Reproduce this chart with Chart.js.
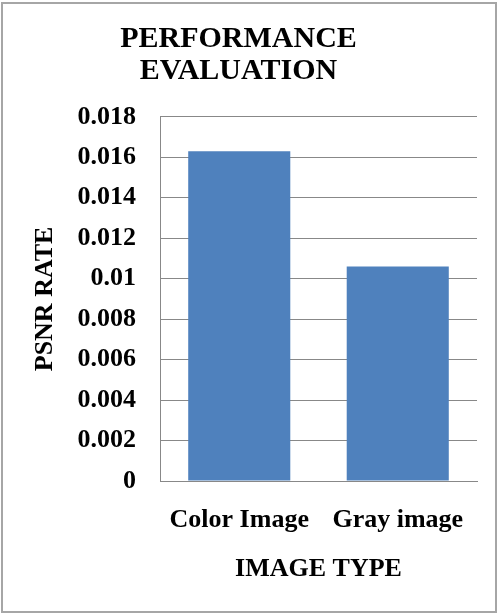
<!DOCTYPE html>
<html>
<head>
<meta charset="utf-8">
<script src="https://cdn.jsdelivr.net/npm/chart.js@4.4.1/dist/chart.umd.min.js"></script>
<style>
  html, body { margin: 0; padding: 0; background: #fff; }
  #wrap { position: relative; width: 498px; height: 614px; }
  canvas { display: block; }
</style>
</head>
<body>
<div id="wrap"><canvas id="chart" width="498" height="614"></canvas></div>
<script>
// Data
const categories = ['Color Image', 'Gray image'];
const psnrRate = [0.0163, 0.0106];
const yTicks = [0, 0.002, 0.004, 0.006, 0.008, 0.01, 0.012, 0.014, 0.016, 0.018];
const titleLines = ['PERFORMANCE', 'EVALUATION'];
const yTitle = 'PSNR RATE';
const xTitle = 'IMAGE TYPE';

const serif = "'Liberation Serif', 'Times New Roman', serif";

// Grey outline around the whole chart
const frame = {
  id: 'frame',
  afterDraw(chart) {
    const ctx = chart.ctx;
    ctx.save();
    ctx.strokeStyle = '#a6a6a6';
    ctx.lineWidth = 2;
    ctx.strokeRect(2, 3, 494, 609);
    ctx.restore();
  }
};

new Chart(document.getElementById('chart'), {
  type: 'bar',
  data: {
    labels: categories,
    datasets: [{
      data: psnrRate,
      backgroundColor: '#4F81BD',
      borderWidth: 0,
      barPercentage: 0.644,
      categoryPercentage: 1
    }]
  },
  plugins: [frame],
  options: {
    responsive: false,
    animation: false,
    layout: { padding: { left: 0, right: 21, top: 23, bottom: 29 } },
    plugins: {
      legend: { display: false },
      tooltip: { enabled: false },
      title: {
        display: true,
        text: titleLines,
        color: '#000',
        font: { family: serif, size: 30, weight: 'bold', lineHeight: 1.08 },
        padding: { top: 0, bottom: 29 }
      }
    },
    scales: {
      x: {
        afterFit(scale) { scale.height = 104; },
        grid: { display: false, drawTicks: false },
        border: { display: true, color: '#888', width: 1 },
        ticks: {
          color: '#000',
          font: { family: serif, size: 26, weight: 'bold' },
          padding: 24
        },
        title: {
          display: true,
          text: xTitle,
          color: '#000',
          font: { family: serif, size: 26, weight: 'bold' },
          padding: { top: 15, bottom: 0 }
        }
      },
      y: {
        min: 0,
        max: 0.018,
        afterBuildTicks(scale) {
          scale.ticks = yTicks.map(v => ({ value: v }));
        },
        afterFit(scale) { scale.width = 160; },
        grid: { color: '#888', lineWidth: 1, drawTicks: false },
        border: { display: true, color: '#888', width: 1 },
        ticks: {
          color: '#000',
          font: { family: serif, size: 26, weight: 'bold' },
          padding: 24,
          callback: v => String(Number(v.toFixed(3)))
        },
        title: {
          display: true,
          text: yTitle,
          color: '#000',
          font: { family: serif, size: 26, weight: 'bold' },
          padding: { top: 30, bottom: 0 }
        }
      }
    }
  }
});
</script>
</body>
</html>
